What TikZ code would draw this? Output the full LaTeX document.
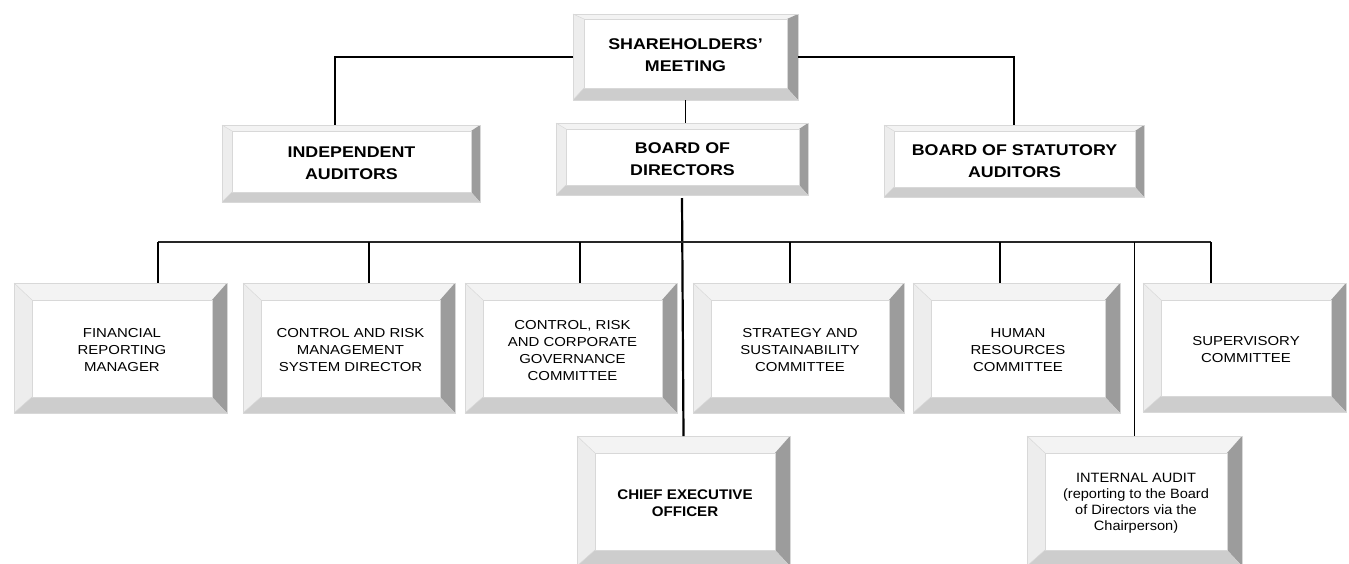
\documentclass[tikz,border=0pt]{standalone}
\usepackage{fontspec}
\setmainfont{Liberation Sans}
\newfontfamily\widefont[FakeStretch=1.15]{Liberation Sans}
\newfontfamily\midfont[FakeStretch=1.08]{Liberation Sans}
\usetikzlibrary{calc}
\definecolor{bvtop}{HTML}{F3F3F3}
\definecolor{bvleft}{HTML}{EDEDED}
\definecolor{bvright}{HTML}{9C9C9C}
\definecolor{bvbot}{HTML}{CDCDCD}
\definecolor{bvline}{HTML}{D8D8D8}
\newcommand\setbevel[4]{\def\bvl{#1}\def\bvt{#2}\def\bvr{#3}\def\bvb{#4}}
% #1 name, #2 x1, #3 y1, #4 x2, #5 y2, #6 font, #7 text
\newcommand\bevbox[7]{%
 \fill[bvtop] (#2,#3) -- (#4,#3) -- ({#4-\bvr},{#3+\bvt}) -- ({#2+\bvl},{#3+\bvt}) -- cycle;
 \fill[bvleft] (#2,#3) -- ({#2+\bvl},{#3+\bvt}) -- ({#2+\bvl},{#5-\bvb}) -- (#2,#5) -- cycle;
 \fill[bvright] (#4,#3) -- (#4,#5) -- ({#4-\bvr},{#5-\bvb}) -- ({#4-\bvr},{#3+\bvt}) -- cycle;
 \fill[bvbot] (#2,#5) -- (#4,#5) -- ({#4-\bvr},{#5-\bvb}) -- ({#2+\bvl},{#5-\bvb}) -- cycle;
 \fill[white] ({#2+\bvl},{#3+\bvt}) rectangle ({#4-\bvr},{#5-\bvb});
 \draw[bvline, line width=0.8pt] (#2,#3) rectangle (#4,#5);
 \draw[bvline, line width=0.6pt] ({#2+\bvl},{#3+\bvt}) rectangle ({#4-\bvr},{#5-\bvb});
 \draw[bvline, line width=0.5pt] (#2,#3) -- ({#2+\bvl},{#3+\bvt});
 \draw[bvline, line width=0.5pt] (#2,#5) -- ({#2+\bvl},{#5-\bvb});
 \node[inner sep=0pt, outer sep=0pt, minimum width={(#4-#2)*1pt}, minimum height={(#5-#3)*1pt}] (#1) at ({(#2+#4)/2},{(#3+#5)/2}) {};
 \node[align=center, inner sep=0pt, text=black, font=#6, yshift=-2pt] (#1-t) at ({(#2+\bvl+#4-\bvr)/2},{(#3+\bvt+#5-\bvb)/2}) {#7};
}
\tikzset{
 conn/.style={draw=black, line width=1.3pt},
 mainconn/.style={draw=black, line width=2.2pt},
 busline/.style={draw=black!85, line width=1.8pt}
}
\begin{document}
\begin{tikzpicture}[x=1pt, y=-1pt]
\useasboundingbox (0,0) rectangle (1349,563);
\fill[white] (0,0) rectangle (1349,563);
\coordinate (bus) at (684,242);
\coordinate (d1) at (158,242);
\coordinate (d2) at (369,242);
\coordinate (d3) at (580,242);
\coordinate (d4) at (790,242);
\coordinate (d5) at (1000,242);
\coordinate (d6) at (1211,242);
% top row
\setbevel{11}{5}{11}{12}
\bevbox{sh}{573}{14}{798}{100}{\widefont\fontsize{15.5}{22}\selectfont\bfseries}{SHAREHOLDERS’\\MEETING}
\setbevel{10}{6}{9}{10}
\bevbox{ia}{222}{125}{480}{202}{\widefont\fontsize{15.5}{22}\selectfont\bfseries}{INDEPENDENT\\AUDITORS}
\bevbox{bod}{556}{123}{808}{195}{\widefont\fontsize{15.5}{22}\selectfont\bfseries}{BOARD OF\\DIRECTORS}
\bevbox{bsa}{884}{125}{1144}{197}{\widefont\fontsize{15.5}{22}\selectfont\bfseries}{BOARD OF STATUTORY\\AUDITORS}
% bottom row
\setbevel{18}{17}{15}{16}
\bevbox{fin}{14}{283}{227}{413}{\widefont\fontsize{13}{17}\selectfont}{FINANCIAL\\REPORTING\\MANAGER}
\bevbox{crm}{243}{283}{455}{413}{\widefont\fontsize{13}{17}\selectfont}{CONTROL AND RISK\\MANAGEMENT\\SYSTEM DIRECTOR}
\bevbox{crc}{465}{283}{677}{413}{\widefont\fontsize{13}{17}\selectfont}{CONTROL, RISK\\AND CORPORATE\\GOVERNANCE\\COMMITTEE}
\bevbox{ssc}{693}{283}{904}{413}{\widefont\fontsize{13}{17}\selectfont}{STRATEGY AND\\SUSTAINABILITY\\COMMITTEE}
\bevbox{hrc}{913}{283}{1120}{413}{\widefont\fontsize{13}{17}\selectfont}{HUMAN\\RESOURCES\\COMMITTEE}
\bevbox{sup}{1143}{283}{1346}{412}{\widefont\fontsize{13}{17}\selectfont}{SUPERVISORY\\COMMITTEE}
\bevbox{ceo}{577}{436}{790}{566}{\midfont\fontsize{14}{17}\selectfont\bfseries}{CHIEF EXECUTIVE\\OFFICER}
\bevbox{iaud}{1027}{436}{1242}{566}{\midfont\fontsize{13.5}{16}\selectfont}{INTERNAL AUDIT\\(reporting to the Board\\of Directors via the\\Chairperson)}
% connectors
\draw[conn] (sh.west) -| ([xshift=113pt]ia.north west);
\draw[conn] (sh.east) -| (bsa.north);
\draw[conn] (sh.south) -- (sh.south |- bod.north);
\draw[mainconn] ([yshift=-3pt]bod.south) -- (ceo.north);
\draw[busline] (d1) -- (d6);
\draw[conn] (d1) -- (d1 |- fin.north);
\draw[conn] (d2) -- (d2 |- crm.north);
\draw[conn] (d3) -- (d3 |- crc.north);
\draw[conn] (d4) -- (d4 |- ssc.north);
\draw[conn] (d5) -- (d5 |- hrc.north);
\draw[conn] (d6) -- (d6 |- sup.north);
\draw[conn] (iaud.north) -- (iaud.north |- bus);
\end{tikzpicture}
\end{document}
